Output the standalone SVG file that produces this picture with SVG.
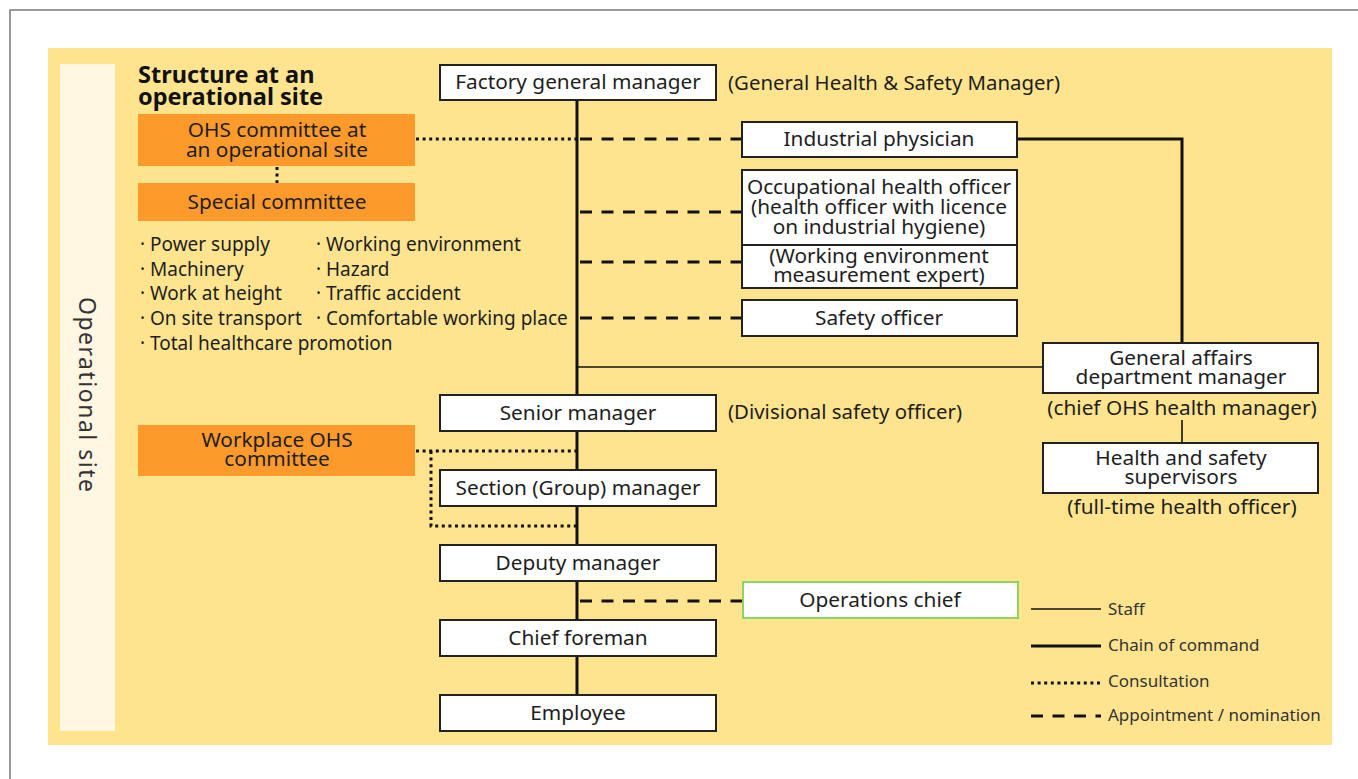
<svg xmlns="http://www.w3.org/2000/svg" width="1358" height="779" viewBox="0 0 1358 779">
<style>
text{font-family:"Noto Sans","Liberation Sans",sans-serif;fill:#1e1e1e}
.t{font-size:20.8px;text-anchor:middle}
.ann{font-size:20.4px}
.bl{font-size:19px}
.leg{font-size:17px;fill:#333}
.box{fill:#fff;stroke:#222;stroke-width:2}
.org{fill:#fc9a2c}
.chain{stroke:#111;stroke-width:3;fill:none}
.staff{stroke:#111;stroke-width:1.6;fill:none}
.dot{stroke:#111;stroke-width:3;stroke-dasharray:3 3.6;fill:none}
.dash{stroke:#111;stroke-width:3;stroke-dasharray:12 9.5;fill:none}
</style>
<rect x="10" y="10" width="1400" height="800" fill="#fff" stroke="#7a7a7a" stroke-width="1.5"/>
<rect x="48" y="48" width="1284" height="697" fill="#ffe48f"/>
<rect x="60" y="64" width="55" height="667" fill="#fff7e2"/>
<text x="0" y="0" transform="translate(79,297) rotate(90)" style="font-size:23px;letter-spacing:1.5px;fill:#333">Operational site</text>
<text x="138" y="83" style="font-size:23.5px;font-weight:bold;fill:#111">Structure at an</text>
<text x="138" y="105" style="font-size:23.5px;font-weight:bold;fill:#111">operational site</text>
<g id="topics">
<text x="140" y="251" class="bl">· Power supply</text>
<text x="140" y="276" class="bl">· Machinery</text>
<text x="140" y="300" class="bl">· Work at height</text>
<text x="140" y="325" class="bl">· On site transport</text>
<text x="140" y="350" class="bl">· Total healthcare promotion</text>
<text x="316" y="251" class="bl">· Working environment</text>
<text x="316" y="276" class="bl">· Hazard</text>
<text x="316" y="300" class="bl">· Traffic accident</text>
<text x="316" y="325" class="bl">· Comfortable working place</text>
</g>
<g id="connectors">
<line class="chain" x1="577" y1="100" x2="577" y2="695"/>
<line class="dot" x1="416" y1="139" x2="576" y2="139"/>
<line class="dash" x1="580" y1="139" x2="742" y2="139"/>
<line class="dash" x1="580" y1="212" x2="742" y2="212"/>
<line class="dash" x1="580" y1="262" x2="742" y2="262"/>
<line class="dash" x1="580" y1="318" x2="742" y2="318"/>
<line class="dot" x1="277" y1="167" x2="277" y2="183"/>
<polyline class="chain" points="1017,139 1182,139 1182,343"/>
<line class="staff" x1="577" y1="367" x2="1043" y2="367"/>
<line class="staff" x1="1182" y1="420" x2="1182" y2="443"/>
<line class="dot" x1="416" y1="451" x2="576" y2="451"/>
<polyline class="dot" points="431,451 431,526 576,526"/>
<line class="dash" x1="580" y1="601" x2="742" y2="601"/>
</g>
<g id="n-ohs-site"><rect class="org" x="138" y="114" width="277" height="52"/><text class="t" x="277" y="137">OHS committee at</text><text class="t" x="277" y="157">an operational site</text></g>
<g id="n-special"><rect class="org" x="138" y="183" width="277" height="38"/><text class="t" x="277" y="209">Special committee</text></g>
<g id="n-workplace-ohs"><rect class="org" x="138" y="425" width="277" height="51"/><text class="t" x="277" y="447">Workplace OHS</text><text class="t" x="277" y="466">committee</text></g>
<g id="n-factory"><rect class="box" x="440" y="65" width="276" height="35"/><text class="t" x="578" y="89">Factory general manager</text></g>
<text class="ann" x="728" y="90">(General Health &amp; Safety Manager)</text>
<g id="n-physician"><rect class="box" x="742" y="122" width="275" height="35"/><text class="t" x="879" y="146">Industrial physician</text></g>
<g id="n-occ-health"><rect class="box" x="742" y="170" width="275" height="75"/><text class="t" x="879" y="194">Occupational health officer</text><text class="t" x="879" y="214">(health officer with licence</text><text class="t" x="879" y="234">on industrial hygiene)</text></g>
<g id="n-work-env"><rect class="box" x="742" y="245" width="275" height="43"/><text class="t" x="879" y="263">(Working environment</text><text class="t" x="879" y="282">measurement expert)</text></g>
<g id="n-safety"><rect class="box" x="742" y="300" width="275" height="36"/><text class="t" x="879" y="325">Safety officer</text></g>
<g id="n-general-affairs"><rect class="box" x="1043" y="343" width="275" height="50"/><text class="t" x="1181" y="365">General affairs</text><text class="t" x="1181" y="384">department manager</text></g>
<text class="t" x="1182" y="415">(chief OHS health manager)</text>
<g id="n-hs-supervisors"><rect class="box" x="1043" y="443" width="275" height="50"/><text class="t" x="1181" y="465">Health and safety</text><text class="t" x="1181" y="484">supervisors</text></g>
<text class="t" x="1182" y="514">(full-time health officer)</text>
<g id="n-senior"><rect class="box" x="440" y="395" width="276" height="36"/><text class="t" x="578" y="420">Senior manager</text></g>
<text class="ann" x="728" y="419">(Divisional safety officer)</text>
<g id="n-section"><rect class="box" x="440" y="470" width="276" height="36"/><text class="t" x="578" y="495">Section (Group) manager</text></g>
<g id="n-deputy"><rect class="box" x="440" y="545" width="276" height="36"/><text class="t" x="578" y="570">Deputy manager</text></g>
<g id="n-ops-chief"><rect x="743" y="582" width="275" height="36" fill="#fff" stroke="#8fd45e" stroke-width="2"/><text class="t" x="880" y="607">Operations chief</text></g>
<g id="n-foreman"><rect class="box" x="440" y="620" width="276" height="36"/><text class="t" x="578" y="645">Chief foreman</text></g>
<g id="n-employee"><rect class="box" x="440" y="695" width="276" height="36"/><text class="t" x="578" y="720">Employee</text></g>
<g id="legend">
<line class="staff" x1="1031" y1="609" x2="1101" y2="609"/>
<text class="leg" x="1108" y="615">Staff</text>
<line class="chain" x1="1031" y1="646" x2="1101" y2="646"/>
<text class="leg" x="1108" y="651">Chain of command</text>
<line class="dot" x1="1031" y1="683" x2="1101" y2="683"/>
<text class="leg" x="1108" y="687">Consultation</text>
<line class="dash" x1="1031" y1="716" x2="1101" y2="716"/>
<text class="leg" x="1108" y="721">Appointment / nomination</text>
</g>
</svg>
